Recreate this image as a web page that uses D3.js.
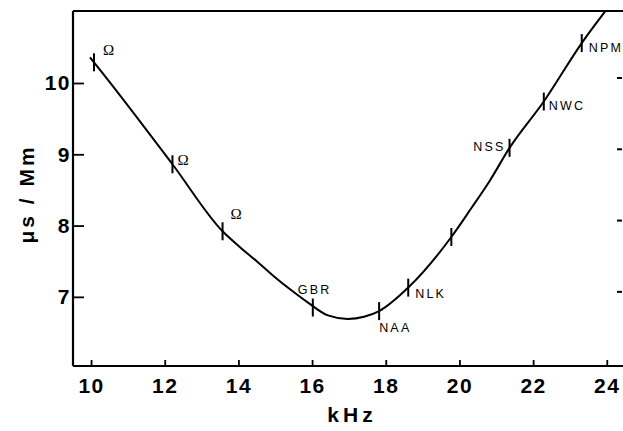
<!DOCTYPE html>
<html><head><meta charset="utf-8">
<script src="https://cdn.jsdelivr.net/npm/d3@7"></script>
<style>
html,body{margin:0;padding:0;background:#fff;}
svg{display:block;}
</style></head>
<body>
<svg id="chart" width="623" height="431"></svg>
<script>
// Curve (kHz vs µs/Mm)
const curveFreq  = [9.97, 10.08, 12.21, 13.57, 14.06, 14.52, 14.96, 15.42, 15.89, 16.43, 16.97, 17.41, 17.82, 18.61, 19.78, 20.33, 20.79, 21.36, 22.29, 23.32, 23.95];
const curveDelay = [10.36, 10.29, 8.86, 7.92, 7.69, 7.49, 7.29, 7.10, 6.92, 6.74, 6.69, 6.72, 6.80, 7.13, 7.84, 8.25, 8.60, 9.09, 9.74, 10.56, 11.00];
// Stations marked on the curve
const stationNames = ["Ω", "Ω", "Ω", "GBR", "NAA", "NLK", "", "NSS", "NWC", "NPM"];
const stationFreq  = [10.08, 12.21, 13.57, 16.02, 17.82, 18.61, 19.78, 21.36, 22.29, 23.32];
const stationDelay = [10.29, 8.86, 7.92, 6.85, 6.80, 7.13, 7.84, 9.09, 9.74, 10.56];
// Ticks
const xTicks = [10, 12, 14, 16, 18, 20, 22, 24];
const yTicks = [7, 8, 9, 10];
const xTitle = "kHz";
const yTitle = "μs / Mm";

const svg = d3.select("#chart");
const L = 73, T = 11, R = 623, B = 366;
const x = d3.scaleLinear().domain([9.51, 24.44]).range([L, R]);
const y = d3.scaleLinear().domain([6.03, 11.01]).range([B, T]);

const sans = "'Liberation Sans', Arial, Helvetica, sans-serif";

// frame top line
svg.append("line").attr("x1", L).attr("x2", R).attr("y1", T).attr("y2", T)
  .attr("stroke", "#000").attr("stroke-width", 2.2);

// x axis
const xAxis = svg.append("g").attr("transform", `translate(0,${B})`)
  .call(d3.axisBottom(x).tickValues(xTicks).tickSizeInner(-6).tickSizeOuter(0).tickPadding(12).tickFormat(d3.format("d")));
xAxis.select(".domain").attr("stroke-width", 2.2).attr("d", `M${L},0H${R}`);
xAxis.selectAll(".tick line").attr("stroke-width", 1.8);
xAxis.selectAll("text").attr("font-family", sans).attr("font-weight", "bold")
  .attr("font-size", 21).attr("letter-spacing", "1.5px").attr("fill", "#000");

// y axis
const yAxis = svg.append("g").attr("transform", `translate(${L},0)`)
  .call(d3.axisLeft(y).tickValues(yTicks).tickSizeInner(-11).tickSizeOuter(0).tickPadding(2).tickFormat(d3.format("d")));
yAxis.select(".domain").attr("stroke-width", 2.2).attr("d", `M0,${T}V${B}`);
yAxis.selectAll(".tick line").attr("stroke-width", 1.8);
yAxis.selectAll("text").attr("font-family", sans).attr("font-weight", "bold")
  .attr("font-size", 21).attr("letter-spacing", "1.5px").attr("fill", "#000");

// right-edge tick dashes from the neighbouring axis
svg.append("g").selectAll("line").data(yTicks).join("line")
  .attr("x1", 617).attr("x2", 622)
  .attr("y1", d => y(d) - 5).attr("y2", d => y(d) - 5)
  .attr("stroke", "#000").attr("stroke-width", 2);

// axis titles
svg.append("text").attr("x", 352).attr("y", 422).attr("text-anchor", "middle")
  .attr("font-family", sans).attr("font-weight", "bold").attr("font-size", 21)
  .attr("letter-spacing", "4px").text(xTitle);
svg.append("text").attr("transform", "translate(34,194) rotate(-90)").attr("text-anchor", "middle")
  .attr("font-family", sans).attr("font-weight", "bold").attr("font-size", 21)
  .attr("letter-spacing", "3px").text(yTitle);

// curve
const pts = curveFreq.map((f, i) => [f, curveDelay[i]]);
const line = d3.line().x(d => x(d[0])).y(d => y(d[1])).curve(d3.curveMonotoneX);
svg.append("path").attr("d", line(pts)).attr("fill", "none").attr("stroke", "#000").attr("stroke-width", 2);

// station markers
const stations = stationNames.map((n, i) => ({name: n, f: stationFreq[i], v: stationDelay[i]}));
svg.append("g").selectAll("line").data(stations).join("line")
  .attr("x1", d => x(d.f)).attr("x2", d => x(d.f))
  .attr("y1", d => y(d.v) - 9).attr("y2", d => y(d.v) + 9)
  .attr("stroke", "#000").attr("stroke-width", 2);

// label offsets (pixels) relative to marker
const labelOffset = [[9,-7,"start"],[5,1,"start"],[8,-12,"start"],[-15,-14,"start"],[0,21,"start"],[7,10,"start"],[0,0,"start"],[-4,3,"end"],[5,8,"start"],[7,9,"start"]];
svg.append("g").selectAll("text").data(stations).join("text")
  .attr("x", (d, i) => x(d.f) + labelOffset[i][0])
  .attr("y", (d, i) => y(d.v) + labelOffset[i][1])
  .attr("text-anchor", (d, i) => labelOffset[i][2])
  .attr("font-family", d => d.name === "Ω" ? "'Liberation Serif', 'Times New Roman', serif" : sans)
  .attr("font-size", d => d.name === "Ω" ? 15 : 12.5)
  .attr("letter-spacing", d => d.name === "Ω" ? "0px" : "2.2px")
  .attr("fill", "#000")
  .text(d => d.name);
</script>
</body></html>
